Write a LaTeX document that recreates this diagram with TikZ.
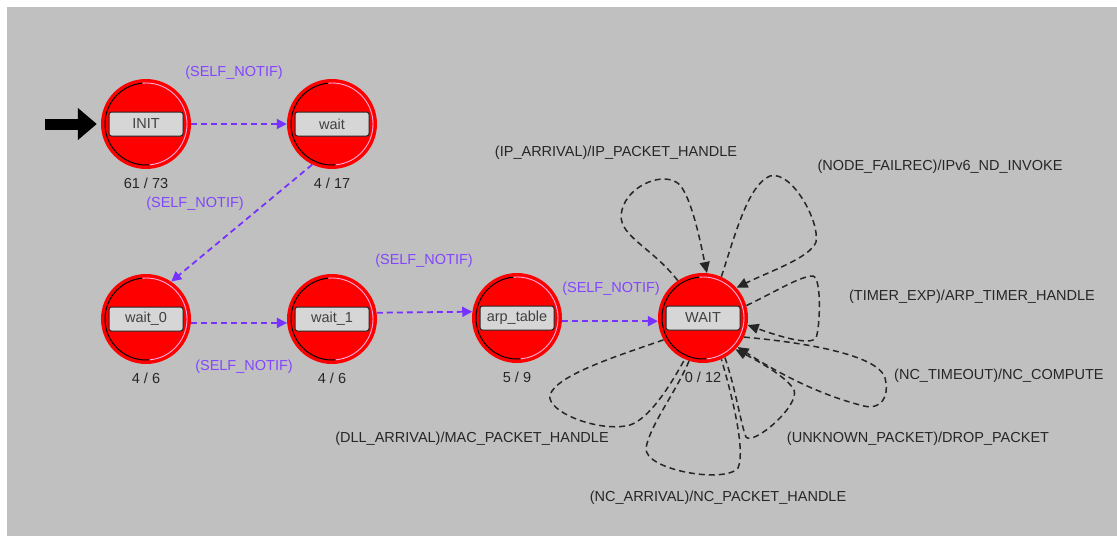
\documentclass[tikz,border=0pt]{standalone}
\usepackage{fontspec}
\setmainfont{Liberation Sans}
\usetikzlibrary{arrows.meta}
\definecolor{bg}{RGB}{192,192,192}
\definecolor{stred}{RGB}{255,0,0}
\definecolor{selfc}{RGB}{120,50,255}
\definecolor{selft}{RGB}{130,70,255}
\definecolor{boxc}{RGB}{214,214,214}
\definecolor{pinkarc}{RGB}{255,170,220}
\newcommand\lblfont{\fontsize{14.5}{17}\selectfont}
\newcommand\mkstate[5]{%
  \node[stateshape] (#1) at (#2,#3) {};
  \draw[black, line width=1pt] (#1.center) ++(95:41pt) arc[start angle=95, end angle=275, radius=41pt];
  \draw[pinkarc, line width=0.9pt] (#1.center) ++(-85:41pt) arc[start angle=-85, end angle=95, radius=41pt];
  \node[namebox] (#1-name) at (#1.center) {#4};
  \node[countlbl] (#1-count) at (#2,{#3+59}) {#5};
}
\begin{document}
\begin{tikzpicture}[x=1pt,y=-1pt,
  stateshape/.style={circle, fill=stred, minimum size=90pt, inner sep=0pt, draw=none},
  namebox/.style={rectangle, rounded corners=2.5pt, draw=black!85, fill=boxc, line width=1pt,
    minimum width=74pt, minimum height=24pt, inner sep=0pt, font=\lblfont, text=black!75},
  countlbl/.style={font=\lblfont, text=black!85},
  tlabel/.style={font=\lblfont, text=selft},
  llabel/.style={font=\lblfont, text=black!85},
  selftr/.style={draw=selfc, line width=1.8pt, dash pattern=on 6pt off 4pt, -{Triangle[length=10pt,width=10pt]}},
  looptr/.style={draw=black!85, line width=1.5pt, dash pattern=on 6pt off 4pt},
  looparr/.style={looptr, -{Triangle[length=11pt,width=10pt]}},
]
\useasboundingbox (0,0) rectangle (1117,536);
\fill[bg] (7,7) rectangle (1117,536);

\mkstate{INIT}{146}{124}{INIT}{61 / 73}
\mkstate{wt}{332}{124}{wait}{4 / 17}
\mkstate{w0}{146}{319}{wait\_0}{4 / 6}
\mkstate{w1}{332}{319}{wait\_1}{4 / 6}
\mkstate{arp}{517}{318}{arp\_table}{5 / 9}
\mkstate{W}{703}{318}{WAIT}{0 / 12}

% initial arrow
\coordinate (start) at (45,124);
\draw[line width=11pt, shorten >=4pt, -{Triangle[length=19pt,width=31pt]}] (start) -- (INIT.west);

% SELF_NOTIF transitions
\draw[selftr] (INIT.east) -- (wt.west);
\draw[selftr] (wt.-116) -- (w0.56);
\draw[selftr] (w0.-5) -- (w1.185);
\draw[selftr] (w1.8) -- (arp.172);
\draw[selftr] (arp.-4) -- (W.184);

\node[tlabel] (l1) at (234,73) {(SELF\_NOTIF)};
\node[tlabel] (l2) at (195,204) {(SELF\_NOTIF)};
\node[tlabel] (l3) at (244,367) {(SELF\_NOTIF)};
\node[tlabel] (l4) at (424,261) {(SELF\_NOTIF)};
\node[tlabel] (l5) at (611,289) {(SELF\_NOTIF)};

% self loops on WAIT
\draw[looparr] (W.124) .. controls (650,245) and (615,235) .. (622,210)
  .. controls (628,185) and (665,170) .. (680,185)
  .. controls (692,200) and (700,240) .. (W.85);
\draw[looparr] (W.66) .. controls (735,235) and (748,185) .. (770,176)
  .. controls (792,170) and (820,222) .. (816,242)
  .. controls (810,258) and (768,272) .. (W.42);
\draw[looparr] (W.16) .. controls (775,292) and (800,276) .. (813,276)
  .. controls (822,278) and (820,328) .. (816,338)
  .. controls (810,346) and (778,336) .. (W.-9);
\draw[looparr] (W.-25) .. controls (800,342) and (878,354) .. (885,378)
  .. controls (890,398) and (880,410) .. (864,406)
  .. controls (815,394) and (770,368) .. (W.-40);
\draw[looparr] (W.-61) .. controls (736,390) and (741,425) .. (746,437)
  .. controls (753,446) and (800,406) .. (794,390)
  .. controls (788,378) and (760,362) .. (W.-44);
\draw[looptr] (W.-108) .. controls (676,392) and (650,425) .. (646,448)
  .. controls (644,470) and (725,484) .. (738,468)
  .. controls (746,450) and (731,392) .. (W.-66);
\draw[looptr] (W.-151) .. controls (620,355) and (556,375) .. (550,395)
  .. controls (546,412) and (600,433) .. (630,425)
  .. controls (648,419) and (668,390) .. (W.-114);

\node[llabel] (m1) at (616,153) {(IP\_ARRIVAL)/IP\_PACKET\_HANDLE};
\node[llabel] (m2) at (940,167) {(NODE\_FAILREC)/IPv6\_ND\_INVOKE};
\node[llabel] (m3) at (972,297) {(TIMER\_EXP)/ARP\_TIMER\_HANDLE};
\node[llabel, anchor=west, inner sep=0pt] (m4) at (894,376) {(NC\_TIMEOUT)/NC\_COMPUTE};
\node[llabel] (m5) at (918,439) {(UNKNOWN\_PACKET)/DROP\_PACKET};
\node[llabel] (m6) at (472,439) {(DLL\_ARRIVAL)/MAC\_PACKET\_HANDLE};
\node[llabel] (m7) at (718,498) {(NC\_ARRIVAL)/NC\_PACKET\_HANDLE};
\end{tikzpicture}
\end{document}
